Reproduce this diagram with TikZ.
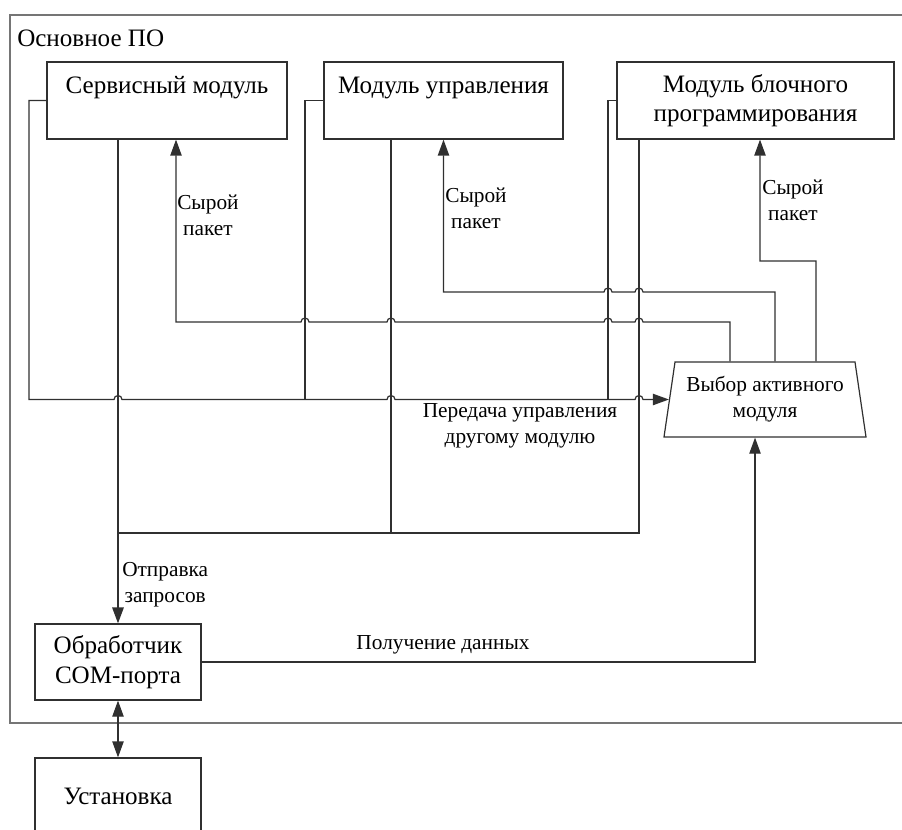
\documentclass[tikz,border=0pt]{standalone}
\usepackage{fontspec}
\setmainfont{Liberation Serif}
\usetikzlibrary{shapes.geometric,arrows.meta}

\definecolor{linegray}{HTML}{303030}
\definecolor{framegray}{HTML}{757575}

\newcommand\boxfont{\fontsize{18.8}{21.5}\selectfont}
\newcommand\selfont{\fontsize{16}{19.5}\selectfont}
\newcommand\lblfont{\fontsize{16}{19.5}\selectfont}

\begin{document}
\begin{tikzpicture}[x=0.75pt,y=-0.75pt,
  line/.style={draw=linegray, line width=0.9pt},
  heavy/.style={draw=linegray, line width=1.5pt},
  tip/.style={-{Triangle[length=12pt,width=8.5pt]}},
  box/.style={draw=linegray, line width=0.9pt, fill=white, align=center,
              font=\boxfont, inner sep=0pt},
  topline/.style={text height=13pt, text depth=24pt},
  lbl/.style={font=\lblfont, align=center, inner sep=0pt},
]
\useasboundingbox (0,0) rectangle (902,830);
\clip (0,0) rectangle (902,830);

% outer frame of the main software
\draw[draw=framegray, line width=1.4pt] (10,15) rectangle (930,723);
\node[font=\boxfont, anchor=west, inner sep=0pt] (main) at (17,38) {Основное ПО};

% modules
\node[box, topline, minimum width=180pt, minimum height=57.75pt] (svc) at (167,100.5)
  {Сервисный модуль};
\node[box, topline, minimum width=179.25pt, minimum height=57.75pt] (ctl) at (443.5,100.5)
  {Модуль управления};
\node[box, minimum width=207.75pt, minimum height=57.75pt] (blk) at (755.5,100.5)
  {Модуль блочного\\программирования};

% active module selector
\node[draw=linegray, line width=0.9pt, fill=white, trapezium,
      trapezium angle=76.5, trapezium stretches body=true,
      minimum width=151.5pt, minimum height=56.25pt, inner sep=0pt,
      align=center, font=\selfont] (sel) at (765,399.5)
  {\raisebox{-2.5pt}{Выбор активного}\\\raisebox{-2.5pt}{модуля}};

% COM port handler and the device
\node[box, font=\fontsize{18.8}{22.5}\selectfont,
      minimum width=124.5pt, minimum height=57pt] (com) at (118,662)
  {Обработчик\\COM-порта};
\node[box, minimum width=124.5pt, minimum height=57pt] (ust) at (118,796)
  {Установка};

% control transfer bus
\draw[line, tip] (svc.west) -- (29,100.5) -- (29,399.5)
  -- (114,399.5) arc[start angle=180, end angle=0, radius=3pt]
  -- (387,399.5) arc[start angle=180, end angle=0, radius=3pt]
  -- (635,399.5) arc[start angle=180, end angle=0, radius=3pt]
  -- (sel.west);
\draw[line] (ctl.west) -| (305,399.5);
\draw[line] (blk.west) -| (608,399.5);

% request bus to the COM port handler
\coordinate (bus) at (118,533);
\draw[line] ([xshift=-36.75pt]svc.south) -- (bus);
\draw[line] ([xshift=-39.375pt]ctl.south) |- (bus);
\draw[line] ([xshift=-87.375pt]blk.south) |- (bus);
\draw[heavy, tip] (bus) -- (com.north);

% raw packets back to the modules
\draw[line, tip] ([xshift=-26.25pt]sel.north) -- (730,322)
  -- (643,322) arc[start angle=0, end angle=180, radius=3pt]
  -- (612,322) arc[start angle=0, end angle=180, radius=3pt]
  -- (395,322) arc[start angle=0, end angle=180, radius=3pt]
  -- (309,322) arc[start angle=0, end angle=180, radius=3pt]
  -- (176,322) -- ([xshift=6.75pt]svc.south);
\draw[line, tip] ([xshift=7.5pt]sel.north) -- (775,292)
  -- (643,292) arc[start angle=0, end angle=180, radius=3pt]
  -- (612,292) arc[start angle=0, end angle=180, radius=3pt]
  -- (443.5,292) -- (ctl.south);
\draw[line, tip] ([xshift=38.25pt]sel.north) -- (816,261)
  -- (760,261) -- ([xshift=3.375pt]blk.south);

% incoming data
\draw[line, tip] (com.east) -| ([xshift=-7.5pt]sel.south);

% link to the device
\draw[line, {Triangle[length=12pt,width=8.5pt]}-{Triangle[length=12pt,width=8.5pt]}]
  (com.south) -- (ust.north);

% labels
\node[lbl, anchor=north west] (l1) at (177,195) {Сырой\\пакет};
\node[lbl, anchor=north west] (l2) at (445,188) {Сырой\\пакет};
\node[lbl, anchor=north west] (l3) at (762,180) {Сырой\\пакет};
\node[lbl] (l4) at (520,426) {Передача управления\\другому модулю};
\node[lbl, anchor=north west] (l5) at (122,562) {Отправка\\запросов};
\node[lbl] (l6) at (443,645) {Получение данных};
\end{tikzpicture}
\end{document}
